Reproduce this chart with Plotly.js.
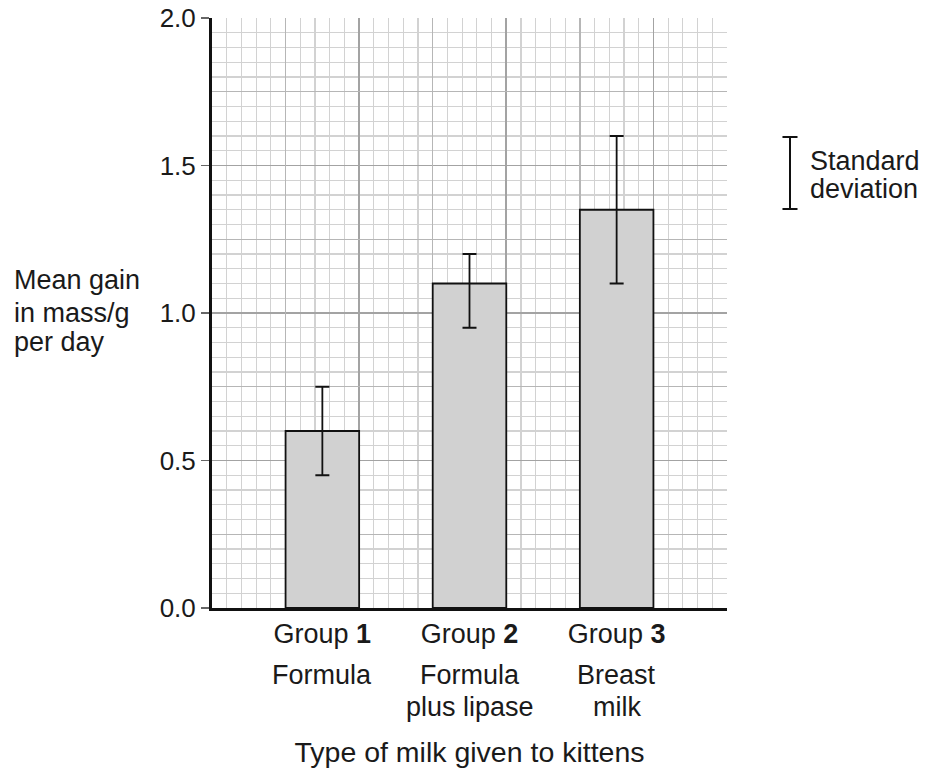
<!DOCTYPE html>
<html>
<head>
<meta charset="utf-8">
<script src="https://cdn.plot.ly/plotly-3.0.1.min.js"></script>
<style>html,body{margin:0;padding:0;background:#fff;}#chart{width:931px;height:769px;}</style>
</head>
<body>
<div id="chart"></div>
<script>
// ---- data ----
var groups = ["Group <b>1</b>", "Group <b>2</b>", "Group <b>3</b>"];
var milkLine1 = ["Formula", "Formula", "Breast"];
var milkLine2 = ["", "plus lipase", "milk"];
var meanGain = [0.6, 1.1, 1.35];
var sdPlus = [0.15, 0.1, 0.25];
var sdMinus = [0.15, 0.15, 0.25];
var yTitleLines = ["Mean gain", "in mass/g", "per day"];
var xTitle = "Type of milk given to kittens";
var legendLines = ["Standard", "deviation"];

var FONT = "Liberation Sans, Arial, sans-serif";
var TXT = "#1a1a1a";
var FS = 27;

var traces = [
  {
    type: "bar", x: groups, y: meanGain, width: 0.5,
    marker: {color: "#d1d1d1", line: {color: "#111", width: 1.8}},
    error_y: {type: "data", symmetric: false, array: sdPlus, arrayminus: sdMinus,
              color: "#111", thickness: 1.8, width: 7},
    hoverinfo: "skip", showlegend: false
  },
  {type: "scatter", x: [], y: [], xaxis: "x2", yaxis: "y2", showlegend: false, hoverinfo: "skip"},
  {type: "scatter", x: [], y: [], xaxis: "x3", yaxis: "y2", showlegend: false, hoverinfo: "skip"}
];

var annotations = [];
// y-axis label lines
var yLabelPos = [0.556, 0.5, 0.451];
yTitleLines.forEach(function (t, i) {
  annotations.push({xref: "paper", yref: "paper", x: -0.3883, y: yLabelPos[i], xanchor: "left", yanchor: "middle",
    text: t, showarrow: false, font: {family: FONT, size: FS, color: TXT}});
});
// milk type lines under groups
groups.forEach(function (g, i) {
  annotations.push({xref: "x", yref: "paper", x: g, y: -0.1136, xanchor: "center", yanchor: "middle",
    text: milkLine1[i], showarrow: false, font: {family: FONT, size: FS, color: TXT}});
  if (milkLine2[i]) {
    annotations.push({xref: "x", yref: "paper", x: g, y: -0.1678, xanchor: "center", yanchor: "middle",
      text: milkLine2[i], showarrow: false, font: {family: FONT, size: FS, color: TXT}});
  }
});
// legend text
var legY = [0.7576, 0.7102];
legendLines.forEach(function (t, i) {
  annotations.push({xref: "paper", yref: "paper", x: 1.157, y: legY[i], xanchor: "left", yanchor: "middle",
    text: t, showarrow: false, font: {family: FONT, size: FS, color: TXT}});
});

// legend key: standard deviation bar symbol
var kx = 1.1223, kTop = 0.7983, kBot = 0.6763, capHalf = 0.0146;
var shapes = [
  {type: "line", xref: "paper", yref: "paper", x0: kx, x1: kx, y0: kBot, y1: kTop, line: {color: "#111", width: 2}},
  {type: "line", xref: "paper", yref: "paper", x0: kx - capHalf, x1: kx + capHalf, y0: kTop, y1: kTop, line: {color: "#111", width: 2}},
  {type: "line", xref: "paper", yref: "paper", x0: kx - capHalf, x1: kx + capHalf, y0: kBot, y1: kBot, line: {color: "#111", width: 2}}
];

var layout = {
  width: 931, height: 769,
  margin: {l: 212, r: 204, t: 18, b: 161},
  paper_bgcolor: "#fff", plot_bgcolor: "#fff",
  showlegend: false,
  font: {family: FONT, size: FS, color: TXT},
  xaxis: {
    type: "category", range: [-0.75, 2.75], showgrid: false, zeroline: false,
    showline: true, linecolor: "#111", linewidth: 3, ticks: "",
    tickfont: {family: FONT, size: FS, color: TXT},
    title: {text: xTitle, standoff: 94, font: {family: FONT, size: 28.5, color: TXT}},
    fixedrange: true
  },
  xaxis2: {
    overlaying: "x", anchor: "y", type: "linear", range: [0, 3.5], dtick: 1, tick0: 0,
    showgrid: true, gridcolor: "#a3a3a3", gridwidth: 1.7,
    minor: {dtick: 0.1, tick0: 0, showgrid: true, gridcolor: "#d2d2d2", gridwidth: 1.1},
    showticklabels: false, ticks: "", zeroline: false, showline: false
  },
  xaxis3: {
    overlaying: "x", anchor: "y", type: "linear", range: [0, 3.5], tickvals: [0.5, 1.5, 2.5, 3.5],
    showgrid: true, gridcolor: "#b6b6b6", gridwidth: 1.4,
    showticklabels: false, ticks: "", zeroline: false, showline: false
  },
  yaxis: {
    range: [0, 2], dtick: 0.5, tick0: 0, tickformat: ".1f",
    showgrid: true, gridcolor: "#a3a3a3", gridwidth: 1.7,
    minor: {dtick: 0.05, tick0: 0, showgrid: true, gridcolor: "#d2d2d2", gridwidth: 1.1},
    zeroline: false, showline: true, linecolor: "#111", linewidth: 3,
    ticks: "outside", ticklen: 8, tickwidth: 1.5, tickcolor: "#666",
    tickfont: {family: FONT, size: 26, color: TXT},
    fixedrange: true
  },
  yaxis2: {
    overlaying: "y", anchor: "x", range: [0, 2], tickvals: [0.25, 0.75, 1.25, 1.75],
    showgrid: true, gridcolor: "#b6b6b6", gridwidth: 1.4,
    showticklabels: false, ticks: "", zeroline: false, showline: false
  },
  annotations: annotations,
  shapes: shapes
};

Plotly.newPlot("chart", traces, layout, {staticPlot: true, displayModeBar: false});
</script>
</body>
</html>
